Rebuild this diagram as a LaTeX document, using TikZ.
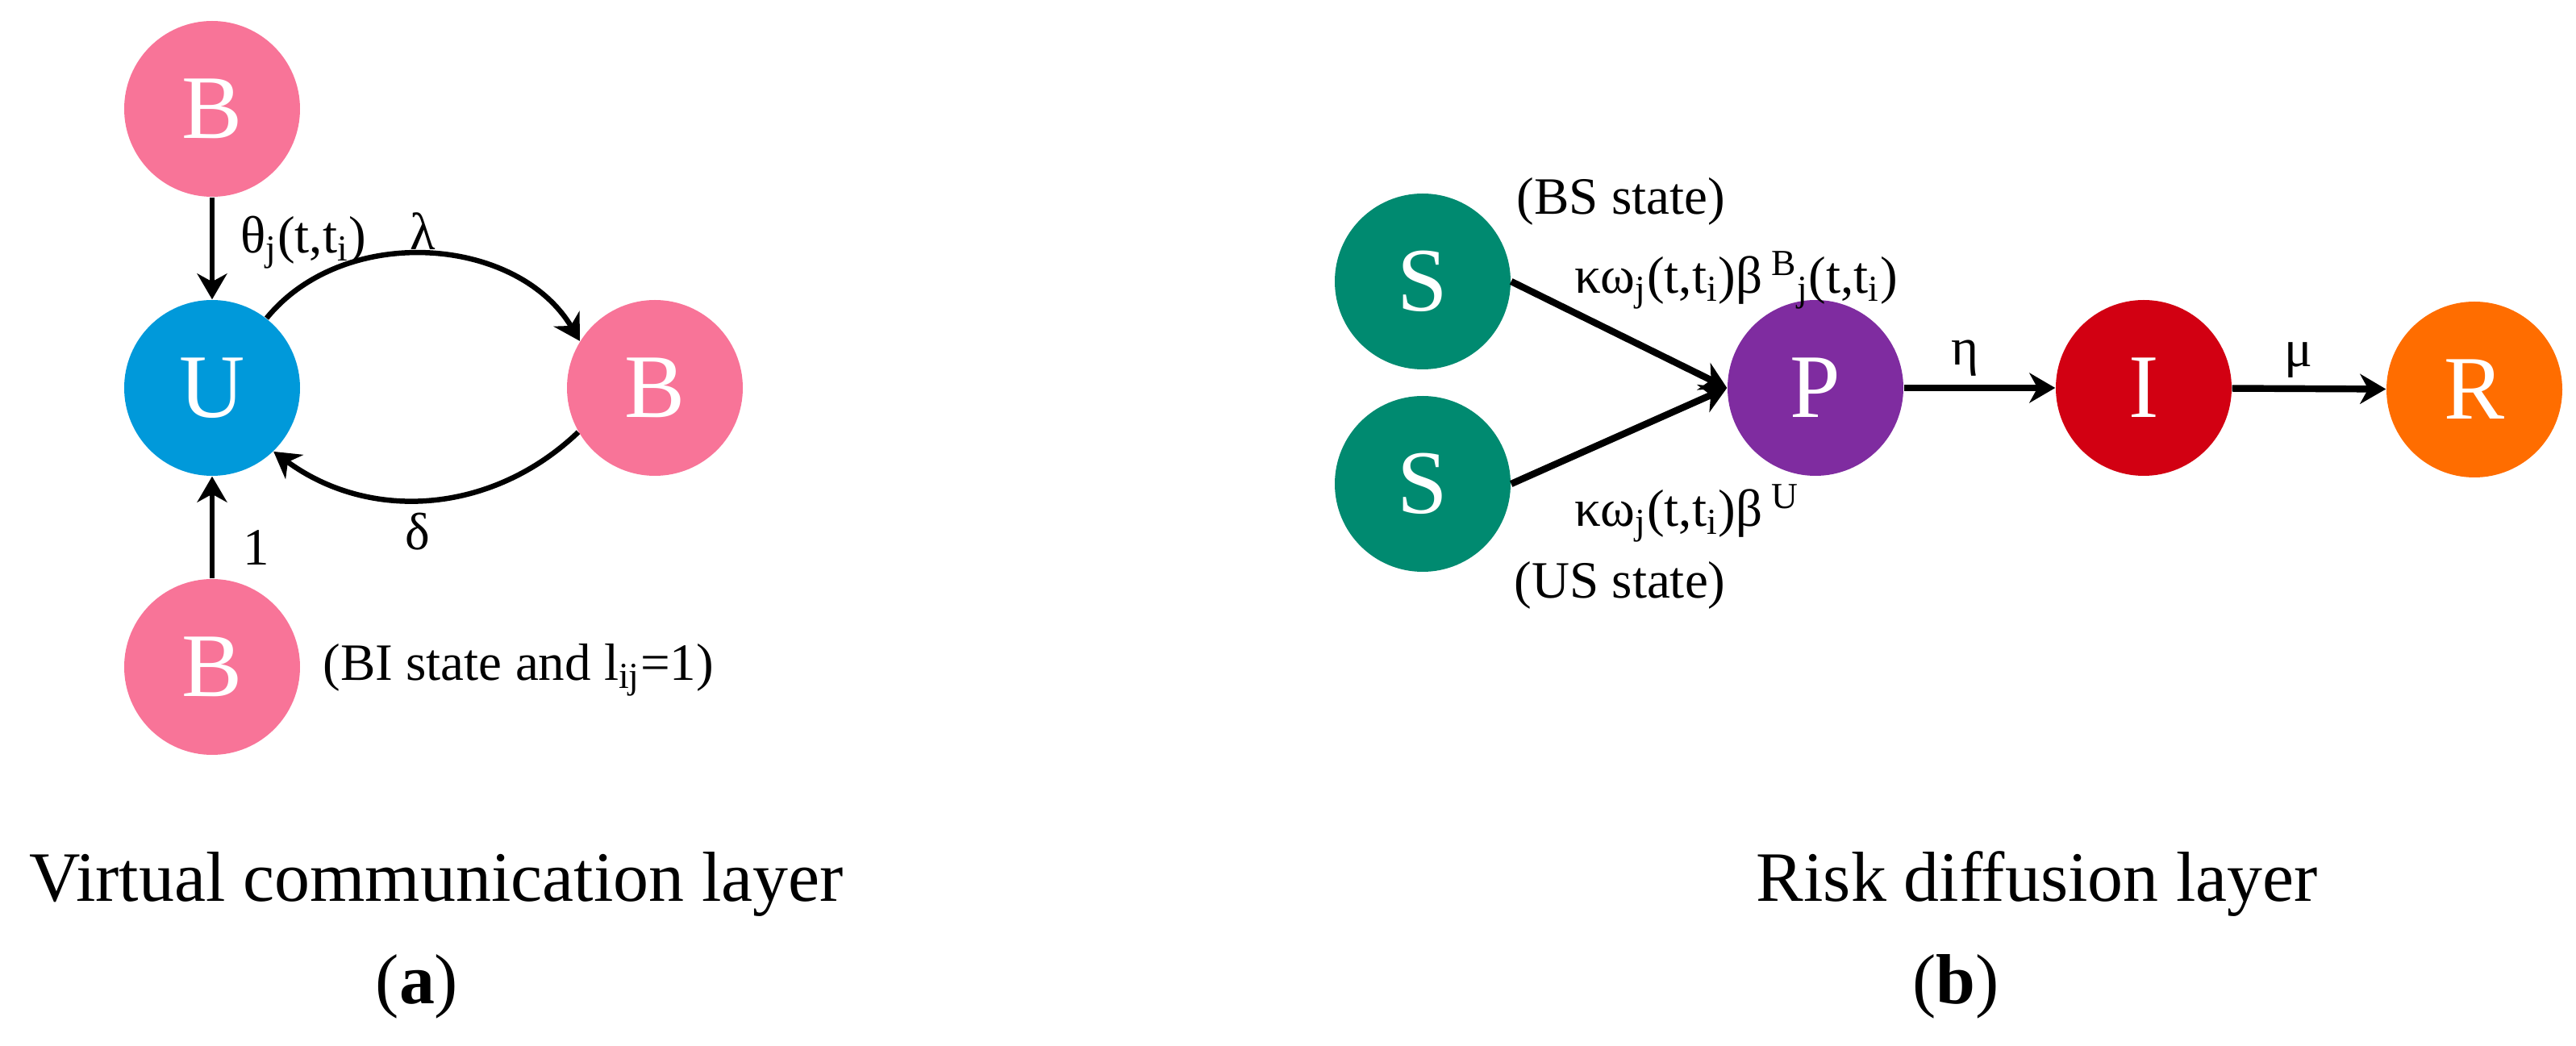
\documentclass[tikz,border=0pt]{standalone}
\usepackage{fontspec}
\setmainfont{Liberation Serif}
\usetikzlibrary{arrows.meta}
\definecolor{bpink}{RGB}{248,116,152}
\definecolor{ublue}{RGB}{0,153,218}
\definecolor{steal}{RGB}{0,138,112}
\definecolor{ppurple}{RGB}{127,44,160}
\definecolor{ired}{RGB}{210,0,18}
\definecolor{rorange}{RGB}{255,109,0}
\begin{document}
\begin{tikzpicture}[
        state/.style={circle, minimum size=2.18cm, inner sep=0pt, text=white, font=\fontsize{32}{38}\selectfont},
        lbl/.style={inner sep=0pt, font=\fontsize{18.5}{22}\selectfont},
        captxt/.style={inner sep=0pt, font=\fontsize{25}{30}\selectfont},
        linka/.style={line width=1.85pt, -{Stealth[length=0.32cm, width=0.37cm, inset=0.1cm]}},
        linkb/.style={line width=2.4pt, -{Stealth[length=0.32cm, width=0.37cm, inset=0.1cm]}}
    ]
        \useasboundingbox (0,0) rectangle (31.94,-12.97);

        % (a) virtual communication layer
        \node[state, fill=bpink] (Btop) at (2.63,-1.35) {B};
        \node[state, fill=ublue] (U) at (2.63,-4.81) {U};
        \node[state, fill=bpink] (Bright) at (8.12,-4.81) {B};
        \node[state, fill=bpink] (Bbot) at (2.63,-8.27) {B};

        \draw[linka] (Btop) -- (U);
        \draw[linka] (Bbot) -- (U);
        \draw[linka] (U.52) to[bend left=55] (Bright.148);
        \draw[linka] (Bright.210) to[bend left=40] (U.314);

        \node[lbl, anchor=base west] (theta) at (2.98,-3.14) {θ\textsubscript{j}(t,t\textsubscript{i})};
        \node[lbl, anchor=base] (lambda) at (5.24,-3.10) {λ};
        \node[lbl, anchor=base] (delta) at (5.18,-6.82) {δ};
        \node[lbl, anchor=base] (one) at (3.18,-7.01) {1};
        \node[lbl, anchor=base west] (bistate) at (4.00,-8.44) {(BI state and l\textsubscript{ij}=1)};

        \node[captxt, anchor=base] (capa) at (5.41,-11.18) {Virtual communication layer};
        \node[captxt, anchor=base] (suba) at (5.17,-12.45) {(\textbf{a})};

        % (b) risk diffusion layer
        \node[state, fill=steal] (S1) at (17.64,-3.49) {S};
        \node[state, fill=steal] (S2) at (17.64,-6.00) {S};
        \node[state, fill=ppurple] (P) at (22.51,-4.81) {P};
        \node[state, fill=ired] (I) at (26.58,-4.81) {I};
        \node[state, fill=rorange] (R) at (30.68,-4.83) {R};

        \draw[linkb] (S1.east) -- (P.west);
        \draw[linkb] (S2.east) -- (P.west);
        \draw[linkb] (P) -- (I);
        \draw[linkb] (I) -- (R);

        \node[lbl, anchor=base west] (bsstate) at (18.80,-2.66) {(BS state)};
        \node[lbl, anchor=base west] (ratebs) at (19.52,-3.64) {κω\textsubscript{j}(t,t\textsubscript{i})β\,\textsuperscript{B}\textsubscript{j}(t,t\textsubscript{i})};
        \node[lbl, anchor=base west] (rateus) at (19.52,-6.53) {κω\textsubscript{j}(t,t\textsubscript{i})β\,\textsuperscript{U}};
        \node[lbl, anchor=base west] (usstate) at (18.77,-7.42) {(US state)};
        \node[lbl, anchor=base] (eta) at (24.36,-4.53) {η};
        \node[lbl, anchor=base] (mu) at (28.50,-4.55) {μ};

        \node[captxt, anchor=base] (capb) at (25.26,-11.18) {Risk diffusion layer};
        \node[captxt, anchor=base] (subb) at (24.25,-12.45) {(\textbf{b})};
    \end{tikzpicture}
\end{document}
